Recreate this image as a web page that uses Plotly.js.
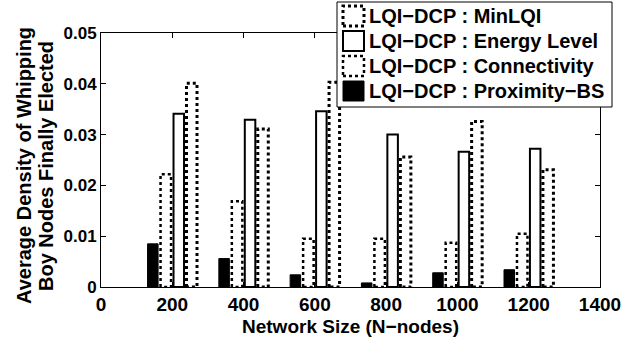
<!DOCTYPE html>
<html>
<head>
<meta charset="utf-8">
<script src="https://cdn.plot.ly/plotly-3.0.1.min.js"></script>
<style>
  html, body { margin: 0; padding: 0; background: #fff; }
  #chart { width: 634px; height: 339px; }
</style>
</head>
<body>
<div id="chart"></div>
<script>
// Network sizes on the x axis
const networkSize = [200, 400, 600, 800, 1000, 1200];

// Average density of whipping-boy nodes finally elected, per election criterion
const proximityBS  = [0.0085, 0.0056, 0.0024, 0.0008, 0.0028, 0.0034];
const connectivity = [0.0222, 0.0169, 0.0095, 0.0095, 0.0087, 0.0105];
const energyLevel  = [0.0341, 0.0329, 0.0346, 0.0300, 0.0266, 0.0272];
const minLQI       = [0.0401, 0.0311, 0.0403, 0.0256, 0.0326, 0.0231];

const seriesNames = [
  'LQI\u2212DCP : Proximity\u2212BS',
  'LQI\u2212DCP : Connectivity',
  'LQI\u2212DCP : Energy Level',
  'LQI\u2212DCP : MinLQI'
];

const xTickVals = [0, 200, 400, 600, 800, 1000, 1200, 1400];
const yTickVals = [0, 0.01, 0.02, 0.03, 0.04, 0.05];
const yTickText = ['0', '0.01', '0.02', '0.03', '0.04', '0.05'];

const xTitle = 'Network Size (N\u2212nodes)';
const yTitleLines = ['Average Density of Whipping', 'Boy Nodes Finally Elected'];

// Plot geometry
const W = 634, H = 339;
const M = { l: 101, r: 34, t: 33, b: 52 };
const plotW = W - M.l - M.r, plotH = H - M.t - M.b;
const FONT = 'Liberation Sans, Arial, Helvetica, sans-serif';

// Grouped-bar geometry (in data units): 4 slots per group
const slot = 36.4;
const barW = 29.5;
const groupOffsets = [-1.5, -0.5, 0.5, 1.5].map(k => k * slot - barW / 2);

// Styles per series: fill, outline width, outline dash
const styles = [
  { fill: '#000000', dash: 'solid', lw: 1 },
  { fill: '#ffffff', dash: 'dot',   lw: 2.5 },
  { fill: '#ffffff', dash: 'solid', lw: 2 },
  { fill: '#ffffff', dash: 'dot',   lw: 3 }
];
const seriesValues = [proximityBS, connectivity, energyLevel, minLQI];

const traces = [];
seriesValues.forEach((vals, i) => {
  traces.push({
    type: 'bar',
    x: networkSize,
    y: vals,
    width: barW,
    offset: groupOffsets[i],
    marker: { color: styles[i].fill, line: { width: 0 } },
    name: seriesNames[i],
    showlegend: false,
    hoverinfo: 'skip'
  });
});

// Bar outlines (allows dotted edges), built from the same values and offsets
seriesValues.forEach((vals, i) => {
  const xs = [], ys = [];
  networkSize.forEach((n, j) => {
    const x0 = n + groupOffsets[i], x1 = x0 + barW, v = vals[j];
    xs.push(x0, x0, x1, x1, x0, null);
    ys.push(0, v, v, 0, 0, null);
  });
  traces.push({
    type: 'scatter',
    mode: 'lines',
    x: xs,
    y: ys,
    line: { color: '#000', width: styles[i].lw, dash: styles[i].dash },
    showlegend: false,
    hoverinfo: 'skip',
    connectgaps: false
  });
});

// Pixel -> paper helpers for the hand-built legend and titles
const px = v => (v - M.l) / plotW;
const py = v => (H - M.b - v) / plotH;

const shapes = [];
const annotations = [];

// Legend frame
shapes.push({
  type: 'rect', xref: 'paper', yref: 'paper',
  x0: px(337), x1: px(612), y0: py(107), y1: py(2),
  line: { color: '#000', width: 1 }, fillcolor: '#fff', layer: 'above'
});

// Legend rows, top to bottom (reverse series order)
const rowY = [16, 41, 66, 91];
[3, 2, 1, 0].forEach((si, r) => {
  const cy = rowY[r];
  shapes.push({
    type: 'rect', xref: 'paper', yref: 'paper',
    x0: px(343), x1: px(364), y0: py(cy + 10), y1: py(cy - 10),
    line: { color: '#000', width: styles[si].lw, dash: styles[si].dash },
    fillcolor: styles[si].fill, layer: 'above'
  });
  annotations.push({
    xref: 'paper', yref: 'paper', x: px(367), y: py(cy),
    xanchor: 'left', yanchor: 'middle', showarrow: false,
    text: seriesNames[si],
    font: { family: FONT, size: 20, color: '#000', weight: 'bold' }
  });
});

// Two-line vertical y-axis title, set tightly like the original figure
const yTitleX = [24, 46];
yTitleLines.forEach((t, k) => {
  annotations.push({
    xref: 'paper', yref: 'paper', x: px(yTitleX[k]), y: py(166),
    xanchor: 'center', yanchor: 'middle', showarrow: false,
    textangle: -90, text: t,
    font: { family: FONT, size: 20, color: '#000', weight: 'bold' }
  });
});

// x-axis title
annotations.push({
  xref: 'paper', yref: 'paper', x: 0.5, y: py(326),
  xanchor: 'center', yanchor: 'middle', showarrow: false,
  text: xTitle,
  font: { family: FONT, size: 19, color: '#000', weight: 'bold' }
});

const layout = {
  width: W, height: H,
  margin: M,
  paper_bgcolor: '#fff',
  plot_bgcolor: '#fff',
  showlegend: false,
  barmode: 'overlay',
  font: { family: FONT, color: '#000', weight: 'bold' },
  xaxis: {
    range: [0, 1400],
    tickvals: xTickVals,
    ticktext: xTickVals.map(String),
    ticks: 'inside', ticklen: 5, tickwidth: 1, tickcolor: '#000',
    showline: true, linecolor: '#000', linewidth: 1, mirror: 'ticks',
    showgrid: false, zeroline: false,
    tickfont: { family: FONT, size: 19, color: '#000', weight: 'bold' }
  },
  yaxis: {
    range: [0, 0.05],
    tickvals: yTickVals,
    ticktext: yTickText,
    ticks: 'inside', ticklen: 5, tickwidth: 1, tickcolor: '#000',
    showline: true, linecolor: '#000', linewidth: 1, mirror: 'ticks',
    showgrid: false, zeroline: false,
    tickfont: { family: FONT, size: 17, color: '#000', weight: 'bold' }
  },
  shapes: shapes,
  annotations: annotations
};

Plotly.newPlot('chart', traces, layout, { staticPlot: true, displayModeBar: false });
</script>
</body>
</html>
